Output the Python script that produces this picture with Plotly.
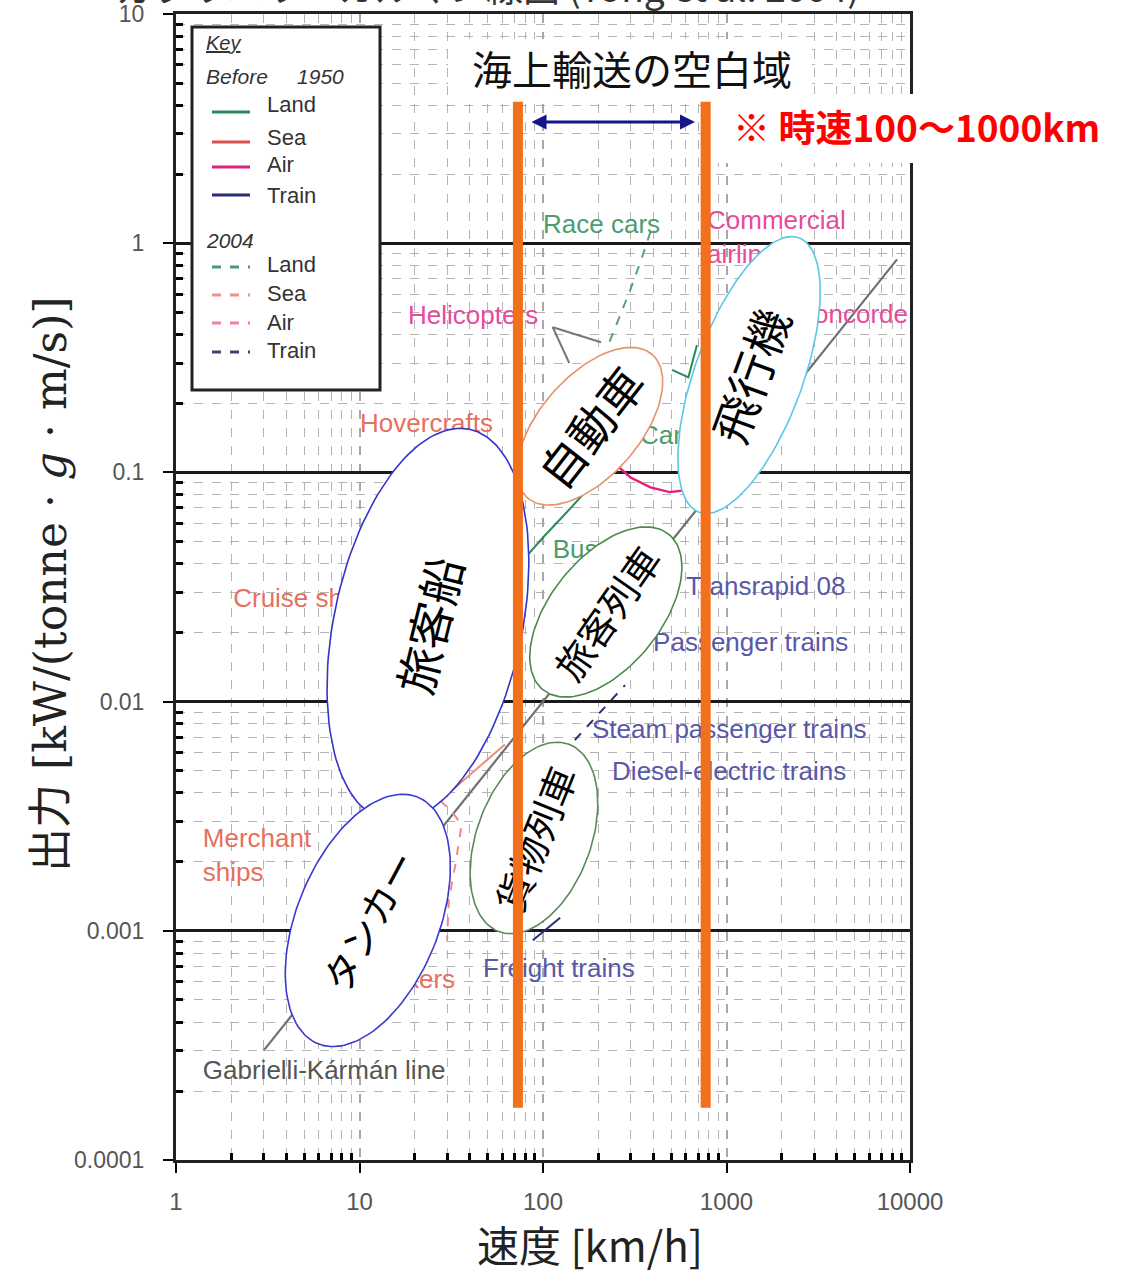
import math
import plotly.graph_objects as go

# ---------------------------------------------------------------- canvas
W, H = 1122, 1275
ML, MR, MT, MB = 176, 212, 14, 115
PW, PH = W - ML - MR, H - MT - MB
X_RANGE = (0, 4)    # log10(km/h)
Y_RANGE = (-4, 1)   # log10(kW/(t g m/s))
PX_PER_DEC_X = PW / (X_RANGE[1] - X_RANGE[0])
PX_PER_DEC_Y = PH / (Y_RANGE[1] - Y_RANGE[0])


def px(xpix):
    """page pixel column -> paper x"""
    return (xpix - ML) / PW


def py(ypix):
    """page pixel row -> paper y"""
    return (H - MB - ypix) / PH


# ---------------------------------------------------------------- data
x_tick_vals = [1, 10, 100, 1000, 10000]
x_tick_text = ["1", "10", "100", "1000", "10000"]
y_tick_vals = [0.0001, 0.001, 0.01, 0.1, 1, 10]
y_tick_text = ["0.0001", "0.001", "0.01", "0.1", "1", "10"]

# Gabrielli-Karman limit line
gk_speed = [3, 8500]
gk_power = [0.0003, 0.85]

# land
race_car_speed = [385, 340, 300, 255, 230]
race_car_power = [1.12, 0.83, 0.63, 0.45, 0.37]
car_speed = [505, 620, 690]
car_power = [0.28, 0.26, 0.36]
bus_speed = [75, 100, 130, 170, 220]
bus_power = [0.040, 0.052, 0.065, 0.082, 0.10]

# air
heli_speed = [240, 300, 385, 490, 630]
heli_power = [0.111, 0.095, 0.086, 0.082, 0.084]
heli_2004_speed = [207, 113, 139]
heli_2004_power = [0.37, 0.43, 0.30]

# sea
ship_speed = [27.5, 62]
ship_power = [0.0037, 0.0065]
ship_2004_speed = [27.5, 32, 36, 33.5, 30.7, 30]
ship_2004_power = [0.0037, 0.0033, 0.0029, 0.0020, 0.00136, 0.00091]

# train
train_2004_speed = [149, 280]
train_2004_power = [0.0068, 0.0118]
freight_speed = [88, 124]
freight_power = [0.00091, 0.00114]

# vehicle class labels (text, anchor speed, anchor power)
label_text = ["Race cars", "Commercial<br>airliners", "Helicopters", "Concorde",
              "Hovercrafts", "Cars", "Buses", "Cruise ships", "Transrapid 08",
              "Passenger trains", "Steam passenger trains",
              "Diesel-electric trains", "Merchant<br>ships", "Tankers",
              "Freight trains", "Gabrielli-Kármán line"]
label_speed = [100, 783, 18.4, 9750, 10.07, 338, 113, 2.05, 601, 398, 185,
               238, 1.40, 33.2, 47.1, 1.40]
label_power = [1.18, 1.04, 0.472, 0.481, 0.161, 0.1426, 0.0454, 0.0275,
               0.0313, 0.01766, 0.00737, 0.00488, 0.00208, 0.000598,
               0.000668, 0.00024]

# grouped regions
group_name = ["旅客船", "タンカー", "自動車", "飛行機", "旅客列車", "貨物列車"]
group_speed = [23.6, 11.1, 180, 1327, 220, 89.3]
group_power = [0.0216, 0.00111, 0.159, 0.266, 0.0246, 0.00254]

# speed band with no sea transport
band_speed = [73, 770]
band_power = [1.69e-4, 4.2]

# ---------------------------------------------------------------- styles
GREEN, RED, MAGENTA, NAVY = "#2a8a5a", "#d85050", "#e0207e", "#2b2b7a"
LBL_GREEN, LBL_PINK, LBL_SALMON, LBL_NAVY = "#4c9c6c", "#e44c9c", "#e6705e", "#5858a8"
label_color = [LBL_GREEN, LBL_PINK, LBL_PINK, LBL_PINK, LBL_SALMON, LBL_GREEN,
               LBL_GREEN, LBL_SALMON, LBL_NAVY, LBL_NAVY, LBL_NAVY, LBL_NAVY,
               LBL_SALMON, LBL_SALMON, LBL_NAVY, "#555555"]
label_pos = ["middle right", "middle right", "middle right", "middle left",
             "middle right", "middle right", "middle right", "middle right",
             "middle right", "middle right", "middle right", "middle right",
             "middle right", "middle left", "middle right", "middle right"]
# semi-axes (px), tilt (deg), outline, text size, text angle
group_a = [200, 133, 95, 146, 100, 100]
group_b = [94, 71, 50, 54, 55, 57]
group_tilt = [78, 68, 49, 70, 51, 69.5]
group_line = ["#3434c8", "#3a3ad0", "#e8906a", "#5cc8e8", "#4a8a4a", "#5a8a5a"]
group_font = [46, 38, 46, 46, 38, 38]
group_angle = [-76, -62, -52, -70, -55, -68]

SANS = "Liberation Sans, Arial, sans-serif"
CJK = "Noto Sans CJK JP, sans-serif"

fig = go.Figure()


def add_curve(xs, ys, color, dash="solid", width=2):
    fig.add_trace(go.Scatter(x=xs, y=ys, mode="lines",
                             line=dict(color=color, width=width, dash=dash),
                             hoverinfo="skip", showlegend=False))


add_curve(gk_speed, gk_power, "#707070", width=2.2)
add_curve(race_car_speed, race_car_power, "#5aa07a", dash="dash")
add_curve(car_speed, car_power, GREEN)
add_curve(bus_speed, bus_power, GREEN)
add_curve(heli_speed, heli_power, MAGENTA, width=2.4)
add_curve(heli_2004_speed, heli_2004_power, "#777777")
add_curve(ship_speed, ship_power, "#e8907a")
add_curve(ship_2004_speed, ship_2004_power, "#f08a8a", dash="dash")
add_curve(train_2004_speed, train_2004_power, NAVY, dash="dash")
add_curve(freight_speed, freight_power, NAVY)

# class labels sit under the region ellipses
for t, s, p, c, pos in zip(label_text, label_speed, label_power, label_color, label_pos):
    fig.add_trace(go.Scatter(x=[s], y=[p], mode="text", text=[t], textposition=pos,
                             textfont=dict(family=SANS, size=26, color=c),
                             hoverinfo="skip", showlegend=False))


def ellipse(speed, power, a, b, tilt, n=140):
    lx, ly = math.log10(speed), math.log10(power)
    th = math.radians(tilt)
    xs, ys = [], []
    for k in range(n + 1):
        t = 2 * math.pi * k / n
        u, v = a * math.cos(t), b * math.sin(t)
        dx = u * math.cos(th) - v * math.sin(th)
        dy = u * math.sin(th) + v * math.cos(th)
        xs.append(10 ** (lx + dx / PX_PER_DEC_X))
        ys.append(10 ** (ly + dy / PX_PER_DEC_Y))
    return xs, ys


for i, name in enumerate(group_name):
    ex, ey = ellipse(group_speed[i], group_power[i], group_a[i], group_b[i], group_tilt[i])
    fig.add_trace(go.Scatter(x=ex, y=ey, mode="lines", fill="toself",
                             fillcolor="white",
                             line=dict(color=group_line[i], width=1.6),
                             hoverinfo="skip", showlegend=False, name=name))

annotations = []


def note(xpix, ypix, text, size, color="#333333", family=SANS, xanchor="center",
         angle=0):
    annotations.append(dict(x=px(xpix), y=py(ypix), xref="paper", yref="paper",
                            xanchor=xanchor, yanchor="middle", text=text,
                            showarrow=False, textangle=angle,
                            font=dict(family=family, size=size, color=color)))


for i, name in enumerate(group_name):
    annotations.append(dict(
        x=math.log10(group_speed[i]), y=math.log10(group_power[i]),
        xref="x", yref="y", xanchor="center", yanchor="middle",
        text=name, showarrow=False, textangle=group_angle[i],
        font=dict(family=CJK, size=group_font[i], color="black")))

# orange band limits
for s in band_speed:
    annotations.append(dict(
        x=math.log10(s), y=math.log10(band_power[0]), xref="x", yref="y",
        ax=math.log10(s), ay=math.log10(band_power[1]), axref="x", ayref="y",
        text="", showarrow=True, arrowhead=0, arrowwidth=10,
        arrowcolor="#f26f1c"))

# double-headed arrow between the band limits
annotations.append(dict(
    x=px(695), y=py(122), xref="paper", yref="paper",
    ax=-165, ay=0, text="", showarrow=True, arrowhead=2, arrowsize=1,
    arrowside="end+start", arrowwidth=3, arrowcolor="#14148c"))

note(632, 68, "海上輸送の空白域", 40, "#111111", CJK)
note(731, 126, "<b>※ 時速100～1000km</b>", 37, "#ff0000", CJK, xanchor="left")

# title line running off the top edge
note(488, -14, "ガブリエリ・カルマン線図 (Yong et al. 2004)", 37, "#333333", CJK)

# axis titles
note(590, 1243, "速度 [km/h]", 42, "#222222", "Liberation Sans Narrow, " + CJK)
note(50, 585, "出力 [kW/(tonne · <i>g</i> · m/s)]", 44, "#222222",
     "DejaVu Serif, " + CJK, angle=-90)

# key box contents
key_items = [("Land", GREEN, "solid", 112, 104), ("Sea", RED, "solid", 142, 138),
             ("Air", MAGENTA, "solid", 167, 165), ("Train", NAVY, "solid", 195, 195),
             ("Land", "#4a9a7a", "dash", 267, 264), ("Sea", "#f09090", "dash", 295, 293),
             ("Air", "#f080b0", "dash", 323, 322), ("Train", "#404070", "dash", 352, 351)]
shapes = [
    dict(type="rect", xref="paper", yref="paper", x0=px(448), x1=px(812),
         y0=py(97), y1=py(39), fillcolor="white", line=dict(width=0), layer="above"),
    dict(type="rect", xref="paper", yref="paper", x0=px(713), x1=px(1122),
         y0=py(163), y1=py(94), fillcolor="white", line=dict(width=0), layer="above"),
    dict(type="rect", xref="paper", yref="paper", x0=px(192), x1=px(380),
         y0=py(390), y1=py(27), fillcolor="white",
         line=dict(color="#222222", width=3), layer="above"),
]
for lab, col, dash, ly_, ty in key_items:
    shapes.append(dict(type="line", xref="paper", yref="paper", x0=px(212), x1=px(250),
                       y0=py(ly_), y1=py(ly_), line=dict(color=col, width=3, dash=dash),
                       layer="above"))
    note(265, ty, lab, 22, xanchor="left")
note(204, 43, "<i><u>Key</u></i>", 20, xanchor="left")
note(204, 76, "<i>Before\u00a0\u00a0\u00a0\u00a0\u00a01950</i>", 21, xanchor="left")
note(204, 240, "<i>2004</i>", 21, xanchor="left")

minor_x = [m * 10 ** e for e in range(0, 4) for m in range(2, 10)]
minor_y = [m * 10.0 ** e for e in range(-4, 1) for m in range(2, 10)]

fig.update_xaxes(
    type="log", range=list(X_RANGE), tickmode="array", tickvals=x_tick_vals,
    ticktext=x_tick_text, ticks="outside", ticklen=10, tickwidth=2, tickcolor="black",
    ticklabelstandoff=8,
    tickfont=dict(family=SANS, size=24, color="#555555"),
    showline=True, linewidth=3, linecolor="#222222", mirror=True,
    showgrid=True, gridcolor="#a8a8a8", gridwidth=1.5, griddash="dash",
    zeroline=False,
    minor=dict(tickmode="array", tickvals=minor_x, ticks="inside", ticklen=7,
               tickwidth=2.5, tickcolor="black", showgrid=True,
               gridcolor="#b4b4b4", gridwidth=1.3, griddash="dash"))
fig.update_yaxes(
    type="log", range=list(Y_RANGE), tickmode="array", tickvals=y_tick_vals,
    ticktext=y_tick_text, ticks="outside", ticklen=10, tickwidth=2, tickcolor="black",
    ticklabelstandoff=14,
    tickfont=dict(family=SANS, size=23, color="#555555"),
    showline=True, linewidth=3, linecolor="#222222", mirror=True,
    showgrid=True, gridcolor="#1a1a1a", gridwidth=3,
    zeroline=False,
    minor=dict(tickmode="array", tickvals=minor_y, ticks="inside", ticklen=7,
               tickwidth=3, tickcolor="black", showgrid=True,
               gridcolor="#b4b4b4", gridwidth=1.3, griddash="dash"))

fig.update_layout(
    template="none", width=W, height=H,
    margin=dict(l=ML, r=MR, t=MT, b=MB, autoexpand=False),
    paper_bgcolor="white", plot_bgcolor="white",
    showlegend=False, hovermode=False,
    annotations=annotations, shapes=shapes)

fig.write_html("out.html")
